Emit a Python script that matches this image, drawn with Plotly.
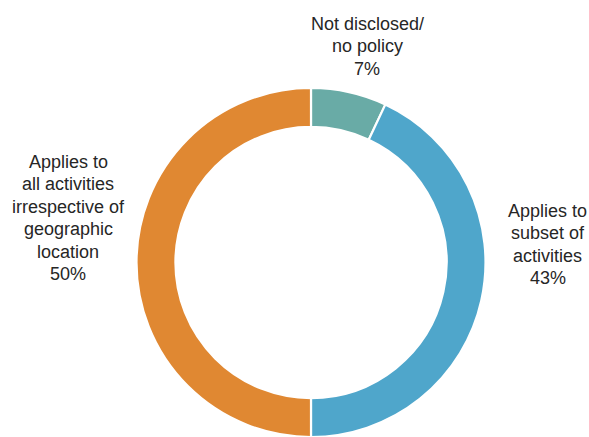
import plotly.graph_objects as go

# Disclosure scope categories, listed clockwise from 12 o'clock
categories = [
    "Not disclosed/\nno policy",
    "Applies to\nsubset of\nactivities",
    "Applies to\nall activities\nirrespective of\ngeographic\nlocation",
]
shares = [7, 43, 50]
colors = ["#69aba6", "#4fa6cb", "#e08832"]

# label placement in pixels: horizontal centre and baseline of first line
label_px = [(367, 30), (547.5, 217), (68, 168)]
LINE_GAP = 22.5
FONT_SIZE = 18

W, H = 589, 437
ML, MR, MT, MB = 33, 0, 88, 0
PW, PH = W - ML - MR, H - MT - MB


def to_paper(px, py):
    return (px - ML) / PW, 1 - (py - MT) / PH


fig = go.Figure(
    go.Pie(
        labels=[c.replace("\n", " ") for c in categories],
        values=shares,
        sort=False,
        direction="clockwise",
        rotation=0,
        hole=0.777,
        marker=dict(colors=colors, line=dict(color="white", width=2.2)),
        textinfo="none",
        hoverinfo="label+percent",
        showlegend=False,
    )
)

total = sum(shares)
annotations = []
for cat, val, (px, base) in zip(categories, shares, label_px):
    lines = cat.split("\n") + [f"{round(100 * val / total)}%"]
    for i, line in enumerate(lines):
        x, y = to_paper(px, base + i * LINE_GAP - 0.35 * FONT_SIZE)
        annotations.append(
            dict(
                x=x,
                y=y,
                xref="paper",
                yref="paper",
                text=line,
                showarrow=False,
                xanchor="center",
                yanchor="middle",
                align="center",
                font=dict(family="Liberation Sans, Arial, sans-serif",
                          size=FONT_SIZE, color="#262626"),
            )
        )

fig.update_layout(
    width=W,
    height=H,
    margin=dict(l=ML, r=MR, t=MT, b=MB),
    paper_bgcolor="white",
    plot_bgcolor="white",
    annotations=annotations,
)

fig.write_html("out.html")
